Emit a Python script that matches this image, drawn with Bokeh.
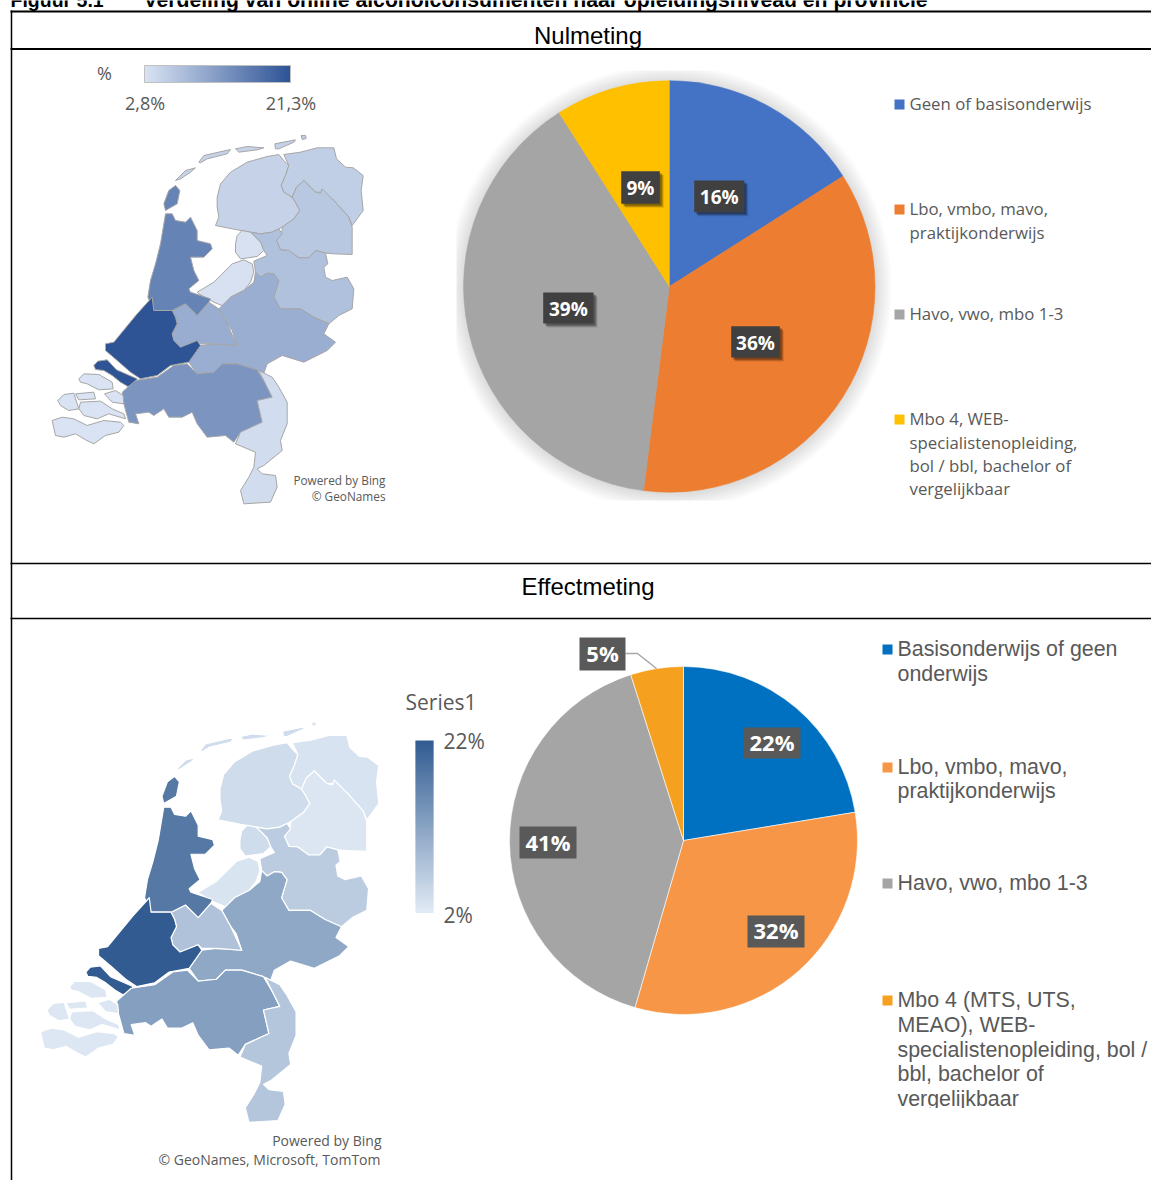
import numpy as np
from bokeh.plotting import figure
from bokeh.embed import file_html
from bokeh.resources import INLINE
from bokeh.core.properties import value

W, H = 1151, 1180

# ---------- data ----------
pie_top_labels = ["Geen of basisonderwijs", "Lbo, vmbo, mavo, praktijkonderwijs", "Havo, vwo, mbo 1-3",
                  "Mbo 4, WEB-specialistenopleiding, bol / bbl, bachelor of vergelijkbaar"]
pie_top_values = [16, 36, 39, 9]
pie_top_colors = ["#4472c4", "#ed7d31", "#a5a5a5", "#ffc000"]
pie_bot_labels = ["Basisonderwijs of geen onderwijs", "Lbo, vmbo, mavo, praktijkonderwijs", "Havo, vwo, mbo 1-3",
                  "Mbo 4 (MTS, UTS, MEAO), WEB-specialistenopleiding, bol / bbl, bachelor of vergelijkbaar"]
pie_bot_values = [22.4, 32.1, 40.6, 4.9]
pie_bot_colors = ["#0070c0", "#f79646", "#a5a5a5", "#f5a01e"]

# province value per measurement (percent)
prov_top = {"FR": 5.0, "GR": 5.4, "DR": 6.3, "OV": 7.2, "GE": 9.6, "NOP": 3.0, "FL": 3.0, "UT": 9.8,
            "NH": 15.2, "ZH": 21.3, "NB": 13.0, "LI": 3.7, "ZE": 2.8}
prov_bot = {"FR": 4.0, "GR": 3.0, "DR": 2.6, "OV": 6.2, "GE": 11.3, "NOP": 4.0, "FL": 2.8, "UT": 7.6,
            "NH": 18.0, "ZH": 22.0, "NB": 12.6, "LI": 7.0, "ZE": 2.4}

# province outlines, in map units
FR = [(530,440),(540,400),(570,365),(620,335),(680,318),(715,312),(730,330),(745,345),(735,375),(722,405),(730,425),(755,440),(765,455),(778,480),(760,505),(725,530),(695,545),(660,550),(630,545),(590,538),(525,525),(535,500),(530,470)]
GR = [(745,345),(730,312),(780,305),(830,292),(880,292),(888,325),(915,350),(938,352),(968,375),(962,420),(968,480),(950,505),(935,525),(925,500),(880,450),(845,425),(825,425),(790,390),(768,410),(755,440),(730,425),(722,405),(735,375)]
DR = [(755,440),(768,410),(790,390),(825,425),(840,428),(845,415),(880,450),(925,500),(935,530),(935,612),(880,610),(855,608),(825,600),(805,622),(775,622),(745,600),(720,598),(708,570),(725,540),(725,530),(760,505),(778,480),(765,455)]
NOP = [(585,580),(590,555),(605,540),(630,545),(660,575),(670,600),(650,618),(600,625),(585,605)]
FL = [(470,725),(520,695),(575,640),(610,628),(635,640),(640,665),(630,695),(610,720),(570,740),(552,768),(520,755),(475,730)]
OV = [(630,545),(660,550),(695,545),(715,535),(725,550),(708,570),(720,598),(745,600),(775,622),(805,622),(825,600),(855,608),(862,640),(850,650),(855,680),(875,690),(920,680),(940,715),(935,775),(895,795),(865,820),(820,800),(780,775),(720,775),(700,740),(715,690),(700,670),(680,668),(660,680),(645,665),(640,632),(680,615),(670,600),(660,575)]
GE = [(645,665),(660,680),(680,668),(700,670),(715,690),(700,740),(720,775),(780,775),(820,800),(865,820),(850,850),(885,875),(860,900),(790,935),(725,915),(680,940),(670,968),(650,958),(590,940),(545,940),(520,965),(470,970),(445,935),(480,885),(520,880),(590,885),(575,840),(560,820),(535,775),(570,740),(610,720),(640,695)]
UT = [(395,780),(435,760),(470,795),(505,755),(535,775),(560,820),(590,885),(520,880),(480,880),(470,870),(420,890),(400,870),(395,850),(410,820),(405,800)]
NH = [(375,490),(360,580),(345,640),(330,690),(322,740),(340,780),(395,780),(435,760),(470,795),(505,755),(510,745),(450,725),(445,715),(475,690),(460,660),(450,620),(490,620),(515,595),(510,580),(470,570),(470,540),(450,500),(435,515),(405,510),(395,490)]
TX = [(405,405),(418,420),(410,460),(375,480),(370,460),(385,420)]
ZH = [(335,740),(340,780),(395,780),(405,800),(410,820),(395,850),(400,870),(420,890),(470,870),(480,885),(445,935),(390,945),(350,975),(300,985),(270,965),(230,930),(195,900),(195,880),(220,875),(290,790)]
GO = [(160,945),(172,932),(200,928),(228,958),(290,985),(285,1000),(262,1008),(240,995),(215,975),(190,960),(165,957)]
NB = [(245,1025),(285,990),(350,980),(400,945),(440,940),(470,970),(520,965),(545,940),(590,940),(650,958),(675,1000),(695,1040),(650,1050),(665,1115),(600,1145),(580,1175),(555,1155),(500,1160),(470,1120),(455,1085),(425,1100),(385,1100),(370,1075),(340,1095),(325,1085),(285,1090),(295,1120),(265,1115),(250,1060)]
LI = [(655,960),(695,980),(715,1010),(740,1055),(740,1120),(720,1170),(725,1200),(670,1245),(650,1255),(665,1270),(705,1275),(710,1310),(690,1355),(610,1360),(600,1320),(625,1280),(640,1250),(645,1205),(585,1180),(600,1145),(665,1115),(650,1050),(695,1040)]
ZE1 = [(115,985),(130,970),(175,972),(215,995),(218,1015),(175,1018),(140,1000),(120,995)]
ZE2 = [(192,1030),(225,1020),(248,1035),(250,1060),(215,1055)]
ZE3 = [(52,1050),(70,1032),(100,1028),(115,1075),(85,1080),(60,1065)]
ZE5 = [(105,1030),(160,1025),(165,1045),(115,1048)]
ZE6 = [(120,1055),(180,1052),(215,1075),(250,1090),(255,1105),(205,1090),(170,1105),(130,1095),(115,1075)]
ZE4 = [(35,1110),(65,1100),(100,1105),(140,1125),(190,1110),(240,1115),(250,1125),(235,1145),(195,1155),(160,1180),(135,1168),(105,1150),(70,1160),(45,1155)]
VL = [(405,390),(435,360),(465,352),(450,365),(420,385)]
TE = [(475,335),(490,315),(570,297),(560,310),(500,325),(480,337)]
AM = [(585,295),(620,288),(670,292),(650,298),(595,305)]
SC = [(703,280),(765,268),(760,275),(715,295),(705,295)]
RO = [(782,255),(795,255),(797,264),(785,267)]

map_shapes = [("FR",FR),("GR",GR),("DR",DR),("OV",OV),("NOP",NOP),("FL",FL),("GE",GE),("UT",UT),("NH",NH),("NH",TX),
              ("ZH",ZH),("ZH",GO),("NB",NB),("LI",LI),("ZE",ZE1),("ZE",ZE2),("ZE",ZE3),("ZE",ZE5),("ZE",ZE6),("ZE",ZE4),
              ("FR",VL),("FR",TE),("FR",AM),("FR",SC),("GR",RO)]

# ---------- figure ----------
p = figure(width=W, height=H, x_range=(0, W), y_range=(0, H), output_backend="svg", toolbar_location=None,
           min_border=0, margin=(0, 0, 0, 0))
p.axis.visible = False
p.grid.visible = False
p.outline_line_color = None
p.background_fill_color = "white"

def Y(y):
    return H - np.asarray(y, dtype=float)

def lerp(c0, c1, t):
    return "#%02x%02x%02x" % tuple(int(round(a + (b - a) * t)) for a, b in zip(c0, c1))

def draw_map(vals, lo, hi, vmin, vmax, ax, bx, ay, by, line, lw):
    xs, ys, cols = [], [], []
    for key, pts in map_shapes:
        a = np.array(pts, dtype=float)
        xs.append(ax + bx * a[:, 0])
        ys.append(Y(ay + by * a[:, 1]))
        cols.append(lerp(lo, hi, (vals[key] - vmin) / (vmax - vmin)))
    p.patches(xs, ys, fill_color=cols, line_color=line, line_width=lw, line_join="round")

def draw_pie(values, colors, cx, cy, r, line=None):
    frac = np.cumsum([0] + list(values)) / sum(values) * 2 * np.pi
    p.wedge(x=cx, y=Y(cy), radius=r, start_angle=np.pi / 2 - frac[:-1], end_angle=np.pi / 2 - frac[1:],
            direction="clock", fill_color=colors, line_color=line if line else colors, line_width=0.6)

def label(x0, x1, y0, y1, txt, col, size, dy=0, shadow=False):
    if shadow:
        for d, a in ((4, 0.12), (3, 0.2), (2, 0.25)):
            p.quad(left=x0 + d, right=x1 + d, top=Y(y0 + d), bottom=Y(y1 + d), fill_color="black", fill_alpha=a, line_color=None)
    p.quad(left=x0, right=x1, top=Y(y0), bottom=Y(y1), fill_color=col, line_color=None)
    p.text(x=[(x0 + x1) / 2], y=Y([(y0 + y1) / 2 + dy]), text=[txt], text_color="white", text_align="center",
           text_baseline="middle", text_font=value("Open Sans"), text_font_style="bold", text_font_size=f"{size}px")

def t(x, y, s, size, font="Open Sans", color="#595959", align="left", style="normal"):
    p.text(x=[x], y=Y([y - 1]), text=[s], text_font=value(font), text_font_size=f"{size}px", text_color=color,
           text_align=align, text_baseline="middle", text_font_style=style)

# page title, rules
t(10, 0, "Figuur 5.1", 19.5, "Liberation Sans", "black", style="bold")
t(143, 0, "Verdeling van online alcoholconsumenten naar opleidingsniveau en provincie", 21.2, "Liberation Sans", "black", style="bold")
for yy in (11, 48.5, 563, 618):
    p.segment(x0=[10], x1=[W], y0=Y([yy]), y1=Y([yy]), line_color="black", line_width=2 if yy < 50 else 1.5)
p.segment(x0=[11], x1=[11], y0=Y([10]), y1=Y([H]), line_color="black", line_width=1.5)
t(587.5, 36, "Nulmeting", 24, "Liberation Sans", "black", "center")
t(587.5, 587, "Effectmeting", 24, "Liberation Sans", "black", "center")

# ---------- top panel ----------
LOW_T, HIGH_T = (217, 227, 243), (46, 84, 150)
n = 146
edges = np.linspace(144, 290, n + 1)
p.quad(left=edges[:-1], right=edges[1:] + 0.5, top=Y([65] * n), bottom=Y([82] * n),
       fill_color=[lerp(LOW_T, HIGH_T, i / (n - 1)) for i in range(n)], line_color=None)
p.quad(left=[144], right=[290], top=Y([65]), bottom=Y([82]), fill_color=None, line_color="#c0c0c0", line_width=1)
t(104, 73.5, "%", 18, align="center")
t(144.5, 103, "2,8%", 18, align="center")
t(290.5, 103, "21,3%", 18, align="center")
draw_map(prov_top, LOW_T, HIGH_T, 2.8, 21.3, 40, 1 / 3, 50, 1 / 3, "#a6a6a6", 1)
t(385, 480.5, "Powered by Bing", 11.8, align="right")
t(385, 496.5, "© GeoNames", 11.8, align="right")

for i in range(20):
    p.circle(x=[668.8], y=Y([287]), radius=204 + i, fill_color="black", fill_alpha=0.0075, line_color=None)
p.quad(left=[440, 440, 440], right=[456, 890, 890], top=Y([60, 52, 500]), bottom=Y([520, 70, 520]),
       fill_color="white", line_color=None)
draw_pie(pie_top_values, pie_top_colors, 668.8, 286, 205.7)
label(693.7, 743.7, 180, 211.7, "16%", "#404040", 19, 1, True)
label(730.7, 779.3, 325.7, 357, "36%", "#404040", 19, 1, True)
label(542.7, 593, 292, 323, "39%", "#404040", 19, 1, True)
label(620.7, 659.3, 170.7, 203.3, "9%", "#404040", 19, 0, True)

legend_top = [["Geen of basisonderwijs"], ["Lbo, vmbo, mavo,", "praktijkonderwijs"], ["Havo, vwo, mbo 1-3"],
              ["Mbo 4, WEB-", "specialistenopleiding,", "bol / bbl, bachelor of", "vergelijkbaar"]]
legend_top_y = [[104], [209, 232.5], [314], [419, 443, 466, 489]]
for lines, ys, c in zip(legend_top, legend_top_y, pie_top_colors):
    p.quad(left=[894], right=[904], top=Y([ys[0] - 5]), bottom=Y([ys[0] + 5]), fill_color=c, line_color=None)
    for s, yy in zip(lines, ys):
        t(909, yy, s, 16.8)

# ---------- bottom panel ----------
LOW_B, HIGH_B = (224, 234, 245), (50, 92, 145)
m = 172
edges = np.linspace(740, 912, m + 1)
p.quad(left=[415] * m, right=[433] * m, top=Y(edges[:-1]), bottom=Y(edges[1:] + 0.5),
       fill_color=[lerp(HIGH_B, LOW_B, i / (m - 1)) for i in range(m)], line_color=None)
t(405, 702, "Series1", 21)
t(443, 741, "22%", 21)
t(443, 915, "2%", 21)
draw_map(prov_bot, LOW_B, HIGH_B, 2, 22, 27.34, 0.3625, 629.2, 0.3622, "white", 1.2)
t(381, 1141, "Powered by Bing", 14, align="right")
t(380, 1160, "© GeoNames, Microsoft, TomTom", 14, align="right")

draw_pie(pie_bot_values, pie_bot_colors, 683, 840, 174, "white")
p.line(x=[625, 637, 656], y=Y([653, 653, 668]), line_color="#a6a6a6", line_width=1.5)
label(743, 800, 727, 758, "22%", "#595959", 22, -1.5)
label(747, 804, 915, 947, "32%", "#595959", 22, -2)
label(519, 576, 826, 858, "41%", "#595959", 22, -1)
label(579, 625, 637, 670, "5%", "#595959", 22, -1)

legend_bot = [["Basisonderwijs of geen", "onderwijs"], ["Lbo, vmbo, mavo,", "praktijkonderwijs"], ["Havo, vwo, mbo 1-3"],
              ["Mbo 4 (MTS, UTS,", "MEAO), WEB-", "specialistenopleiding, bol /", "bbl, bachelor of", "vergelijkbaar"]]
legend_bot_y = [[649, 674], [767, 791], [883], [1000, 1025, 1050, 1074, 1099]]
for lines, ys, c in zip(legend_bot, legend_bot_y, pie_bot_colors):
    p.quad(left=[882], right=[892], top=Y([ys[0] - 5]), bottom=Y([ys[0] + 5]), fill_color=c, line_color=None)
    for s, yy in zip(lines, ys):
        t(897, yy, s, 21.4, "Liberation Sans")
p.quad(left=[890], right=[W], top=Y([1107.5]), bottom=Y([1125]), fill_color="white", line_color=None)

open("out.html", "w").write(file_html(p, INLINE))
